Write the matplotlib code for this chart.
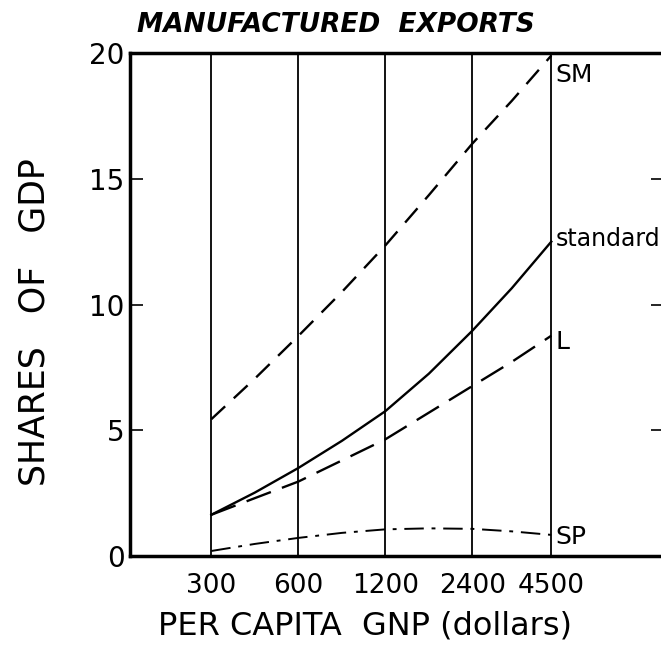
import numpy as np
import matplotlib.pyplot as plt

# per capita GNP (dollars), read at the grid lines and half way between them
gnp = [300, 424, 600, 849, 1200, 1697, 2400, 3286, 4500]
grid_gnp = [300, 600, 1200, 2400, 4500]
grid_labels = ['300', '600', '1200', '2400', '4500']

# shares of GDP (%)
sm = [5.44, 7.05, 8.75, 10.5, 12.35, 14.35, 16.4, 18.1, 19.9]
standard = [1.64, 2.52, 3.5, 4.58, 5.76, 7.25, 8.96, 10.65, 12.5]
large = [1.64, 2.3, 2.96, 3.8, 4.64, 5.7, 6.76, 7.72, 8.76]
sp = [0.2, 0.48, 0.72, 0.92, 1.06, 1.1, 1.08, 0.98, 0.84]

y_ticks = [0, 5, 10, 15, 20]

fig = plt.figure(figsize=(6.61, 6.46), dpi=100)
ax = fig.add_axes([0.1967, 0.1393, 0.8064, 0.7786])

for g in grid_gnp:
    ax.axvline(g, color='black', lw=1.3, zorder=1)

ax.plot(gnp, sm, color='black', lw=1.7, linestyle=(0, (8, 5)))
ax.plot(gnp, standard, color='black', lw=1.7)
ax.plot(gnp, large, color='black', lw=1.7, linestyle=(0, (11, 5)))
ax.plot(gnp, sp, color='black', lw=1.4, linestyle=(0, (10, 4, 2, 4)))

ax.set_xscale('log')
ax.set_xlim(157, 10960)
ax.set_ylim(0, 20)

ax.set_xticks(grid_gnp)
ax.set_xticklabels(grid_labels)
ax.minorticks_off()
ax.tick_params(axis='x', length=0, pad=12, labelsize=19)
ax.set_yticks(y_ticks)
ax.tick_params(axis='y', direction='in', length=9, width=1.2, pad=4,
               labelsize=20, right=True)

for s in ax.spines.values():
    s.set_linewidth(2.5)

# curve labels at the right end
ax.text(4650, 19.6, 'SM', fontsize=18, va='top', ha='left')
ax.text(4650, 12.6, 'standard', fontsize=17, va='center', ha='left')
ax.text(4650, 8.5, 'L', fontsize=18, va='center', ha='left')
ax.text(4650, 0.75, 'SP', fontsize=18, va='center', ha='left')

ax.set_xlabel('PER CAPITA  GNP (dollars)', fontsize=23)
ax.xaxis.set_label_coords(0.441, -0.108)
ax.set_ylabel('SHARES   OF   GDP', fontsize=25)
ax.yaxis.set_label_coords(-0.147, 0.466)
fig.text(0.508, 0.962, 'MANUFACTURED  EXPORTS', fontsize=19,
         fontweight='bold', fontstyle='italic', ha='center', va='center')

plt.savefig('out.png', dpi=100)
